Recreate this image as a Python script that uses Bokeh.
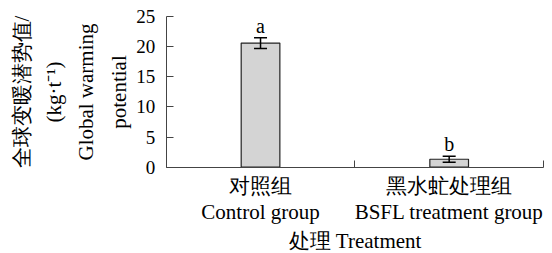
from bokeh.plotting import figure
from bokeh.models import Range1d, FixedTicker, ColumnDataSource
from bokeh.core.properties import value
from bokeh.embed import file_html
from bokeh.resources import INLINE

# data
categories = ["对照组\nControl group", "黑水虻处理组\nBSFL treatment group"]
gwp = [20.55, 1.32]
err = [0.88, 0.5]
letters = ["a", "b"]
y_ticks = [0, 5, 10, 15, 20, 25]
y_title = "全球变暖潜势值/\n(kg·t⁻¹)\nGlobal warming\npotential"
x_title = "处理 Treatment"

SERIF = "Liberation Serif"
AX = "#444444"

# layout: the frame fills the whole canvas, axes are pinned at 0 and bounded
W, H = 552, 253
X0_PX, XN_PX = 165.7, 543.0      # pixel positions of x = 0 and x = n
Y0_PX, YTOP_PX = 166.7, 15.7     # pixel positions of y = 0 and y = 25
n = len(categories)
ymax = y_ticks[-1]
xs_ = (XN_PX - X0_PX) / n
ys_ = (Y0_PX - YTOP_PX) / ymax
x_range = Range1d(-X0_PX / xs_, n + (W - XN_PX) / xs_)
y_range = Range1d(-(H - Y0_PX) / ys_, ymax + YTOP_PX / ys_)

xpos = [i + 0.5 for i in range(n)]
src = ColumnDataSource(dict(
    x=xpos, top=gwp,
    upper=[g + e for g, e in zip(gwp, err)],
    lower=[g - e for g, e in zip(gwp, err)],
    letter=letters,
))

p = figure(width=W, height=H, output_backend="svg", toolbar_location=None,
           x_range=x_range, y_range=y_range, min_border=0)
p.outline_line_color = None
p.xgrid.visible = False
p.ygrid.visible = False
p.background_fill_color = "white"

p.vbar(x="x", top="top", width=0.205, bottom=0, source=src,
       fill_color="#d4d4d4", line_color="#222222", line_width=1.2)
# error bars
p.segment(x0="x", y0="lower", x1="x", y1="upper", source=src,
          line_color="black", line_width=1.5)
p.dash(x="x", y="upper", size=13, source=src, line_color="black", line_width=1.5)
p.dash(x="x", y="lower", size=13, source=src, line_color="black", line_width=1.5)
p.text(x="x", y="upper", text="letter", source=src, text_align="center",
       text_baseline="bottom", y_offset=-1, text_font=value(SERIF),
       text_font_size="20px", text_color="black")

# y axis
ya = p.yaxis[0]
ya.fixed_location = 0
ya.bounds = (0, ymax)
ya.ticker = FixedTicker(ticks=y_ticks)
ya.minor_tick_line_color = None
ya.major_tick_in = 7
ya.major_tick_out = 0
ya.axis_line_color = AX
ya.major_tick_line_color = AX
ya.major_label_text_font = SERIF
ya.major_label_text_font_size = "19px"
ya.major_label_text_color = "black"
ya.major_label_standoff = 11
ya.axis_label = y_title
ya.axis_label_text_font = SERIF
ya.axis_label_text_font_size = "21px"
ya.axis_label_text_font_style = "normal"
ya.axis_label_text_color = "black"
ya.axis_label_text_line_height = 1.34
ya.axis_label_standoff = 3

# x axis
xa = p.xaxis[0]
xa.fixed_location = 0
xa.bounds = (0, n)
xa.ticker = FixedTicker(ticks=xpos, minor_ticks=list(range(n + 1)))
xa.major_label_overrides = {x: c for x, c in zip(xpos, categories)}
xa.major_tick_line_color = None
xa.minor_tick_in = 7
xa.minor_tick_out = 0
xa.minor_tick_line_color = AX
xa.axis_line_color = AX
xa.major_label_text_font = SERIF
xa.major_label_text_font_size = "21px"
xa.major_label_text_color = "black"
xa.major_label_text_line_height = 1.07
xa.major_label_standoff = 1
xa.axis_label = x_title
xa.axis_label_text_font = SERIF
xa.axis_label_text_font_size = "21px"
xa.axis_label_text_font_style = "normal"
xa.axis_label_text_color = "black"
xa.axis_label_standoff = 2

open("out.html", "w").write(file_html(p, INLINE))
